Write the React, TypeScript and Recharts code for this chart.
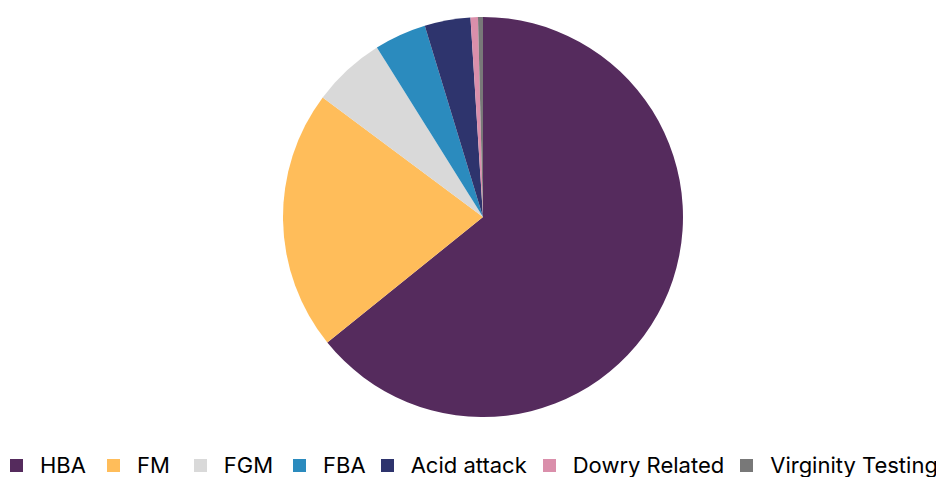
import React from "react";
import { PieChart, Pie, Cell, Legend } from "recharts";

const categories = ["HBA", "FM", "FGM", "FBA", "Acid attack", "Dowry Related", "Virginity Testing"];
const values = [64.2, 21.0, 5.9, 4.2, 3.7, 0.6, 0.4];
const colors = ["#552B5D", "#FFBD5A", "#D9D9D9", "#2B8BBE", "#2E346D", "#DA8FAB", "#787878"];

const data = categories.map((name, i) => ({ name, value: values[i] }));

// spacing after each legend label (style only)
const legendGaps = [21, 24, 20, 15, 16, 16, 0];

const renderLegend = () => {
  return (
    <div style={{ display: "flex", flexWrap: "nowrap", whiteSpace: "nowrap", alignItems: "center" }}>
      {categories.map((name, i) => (
        <div key={name} style={{ display: "flex", alignItems: "center", marginRight: legendGaps[i] }}>
          <span style={{ display: "inline-block", width: 13, height: 13, background: colors[i], marginRight: 17 }} />
          <span style={{ fontFamily: "Inter", fontSize: 22, color: "#000", lineHeight: "26px" }}>{name}</span>
        </div>
      ))}
    </div>
  );
};

export default function App() {
  return (
    <div style={{ width: 936, height: 469, overflow: "visible" }}>
      <PieChart width={936} height={469} style={{ overflow: "visible" }}>
        <Pie
          data={data}
          dataKey="value"
          nameKey="name"
          cx={470}
          cy={204}
          outerRadius={200}
          startAngle={90}
          endAngle={-270}
          stroke="none"
          isAnimationActive={false}
        >
          {data.map((d, i) => (
            <Cell key={d.name} fill={colors[i]} />
          ))}
        </Pie>
        <Legend content={renderLegend} wrapperStyle={{ left: 2, top: 444, width: 1000 }} />
      </PieChart>
    </div>
  );
}
